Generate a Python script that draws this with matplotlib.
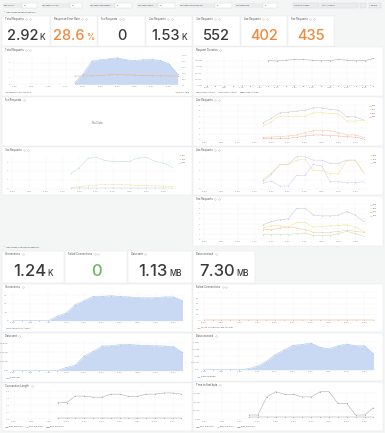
import numpy as np
import matplotlib
matplotlib.use('Agg')
import matplotlib.pyplot as plt
from matplotlib.patches import Rectangle

plt.rcParams['font.family'] = ['Inter', 'DejaVu Sans']
W, H = 385, 433
nan = np.nan

# ---------------- data ----------------
time_labels = ['10:00', '11:00', '12:00', '13:00', '14:00', '15:00', '16:00', '17:00', '18:00', '19:00']
t = np.arange(20)

stat_titles_1 = ['Total Requests', 'Response Error Rate', '1xx Requests', '2xx Requests',
                 '3xx Requests', '4xx Requests', '5xx Requests']
stat_values_1 = ['2.92', '28.6', '0', '1.53', '552', '402', '435']
stat_units_1 = ['K', '%', '', 'K', '', '', '']

stat_titles_2 = ['Connections', 'Failed Connections', 'Data sent', 'Data received']
stat_values_2 = ['1.24', '0', '1.13', '7.30']
stat_units_2 = ['K', '', 'MB', 'MB']

total_requests = [nan]*7 + [0.24, 1.43, 3.24, 3.43, 3.57, 3.71, 3.43, 3.33, 3.43, 3.48, 3.33, 2.86, 1.43]
error_rate = [nan]*7 + [30, 30, 31, 32, 34, 35, 34, 33, 32, 31, 31, 30, 30]

duration_p99 = [nan]*7 + [100, 99, 102, 105, 105, 102, 100, 100, 105, 102, 100, 100, 109]
duration_p50 = [0, 0, 0, 0, 0, 0, 0, 0, 0, 0, 0, 0, 0, 0, 0, 0, 0, 0, 0, 0]

req_2xx = {
    '200': [nan]*7 + [2.97, 3.71, 4.69, 4.80, 4.97, 5.14, 5.54, 5.54, 5.26, 5.14, 4.00, 4.00, 3.43],
    '201': [nan]*7 + [2.40, 3.14, 4.11, 4.11, 4.11, 4.11, 4.69, 4.69, 4.57, 4.46, 3.26, 3.26, 3.43],
    '204': [nan]*7 + [0.46, 0.51, 0.57, 0.69, 0.86, 1.26, 1.60, 1.60, 1.60, 1.26, 0.86, 0.86, 0.46],
    '206': [nan]*7 + [0.29, 0.29, 0.29, 0.29, 0.46, 0.69, 0.86, 0.86, 0.74, 0.69, 0.57, 0.46, 0.23],
}
req_3xx = {
    '301': [nan]*7 + [1.73, 2.38, 3.43, 3.54, 3.18, 3.07, 3.07, 3.10, 3.47, 3.54, 3.10, 2.89, 2.45],
    '302': [nan]*7 + [0.07, 0.22, 0.32, 0.40, 0.47, 0.47, 0.47, 0.43, 0.36, 0.36, 0.32, 0.29, 0.25],
    '304': [nan]*7 + [0.04, 0.04, 0.04, 0.04, 0.04, 0.04, 0.04, 0.04, 0.04, 0.04, 0.04, 0.04, 0.04],
}
req_4xx = {
    '400': [nan]*7 + [0.86, 1.61, 2.73, 2.73, 3.60, 3.60, 3.22, 3.22, 2.85, 2.85, 3.22, 3.22, 1.80],
    '404': [nan]*7 + [1.05, 1.80, 2.73, 2.73, 3.22, 3.30, 2.06, 2.06, 1.69, 1.69, 3.22, 3.22, 1.80],
    '499': [nan]*7 + [0.60, 0.86, 0.30, 0.30, 1.50, 1.50, 2.73, 2.55, 0.79, 0.79, 0.67, 0.67, 0.79],
}
req_5xx = {
    '500': [nan]*7 + [2.87, 3.50, 3.82, 4.01, 6.05, 6.05, 4.78, 4.59, 4.59, 4.78, 5.41, 4.78, 3.50],
    '502': [nan]*7 + [2.23, 2.68, 2.68, 2.42, 3.31, 3.31, 2.42, 2.55, 2.68, 2.74, 2.87, 2.42, 1.59],
    '503': [nan]*7 + [1.91, 1.91, 2.23, 2.42, 2.23, 1.91, 1.40, 1.40, 1.40, 1.59, 1.78, 1.59, 1.40],
    '504': [nan]*7 + [0.96, 0.96, 0.96, 0.96, 1.15, 1.27, 0.76, 0.76, 0.76, 1.15, 1.59, 1.15, 0.64],
}

connections = [0, 0, 0, 0, 0, 27, 46, 95, 119, 144, 144, 148, 144, 141, 137, 135, 137, 141, 141, 119]
failed_connections = [0, 0, 0, 0, 0, 0, 0, 0, 0, 0, 0, 0, 0, 0, 0, 0, 0, 0, 0, 0]
data_sent_kb = [0, 0, 0, 0, 0, 0, 70, 120, 320, 420, 540, 545, 572, 578, 560, 556, 544, 540, 528, 400]
data_recv_kb = [0, 0, 0, 0, 0, 75, 250, 600, 1100, 1450, 1780, 1850, 1950, 1650, 1535, 1750, 1880, 1750, 1750, 1170]
conn_len_p99 = [nan]*5 + [2.39, 2.39, 3.33, 3.33, 3.17, 3.17, 3.61, 3.61, 3.28, 3.28, 3.61, 3.61, 3.78, 3.78, 3.61]
conn_len_p50 = [nan]*5 + [0.22]*15
ttfb_p99 = [nan]*5 + [25, 25, 130, 160, 145, 145, 130, 130, 160, 160, 92, 92, 25, 25, 67]
ttfb_p50 = [nan]*5 + [13]*15

# ---------------- figure ----------------
fig = plt.figure(figsize=(W/100, H/100), dpi=100)
fig.patch.set_facecolor('#f4f5f5')
bg = fig.add_axes([0, 0, 1, 1])
bg.set_xlim(0, W); bg.set_ylim(H, 0); bg.axis('off')
renderer = fig.canvas.get_renderer()

TXT = '#3a3a3e'
LW = 0.35
MS = 0.75
LINE_GREY = '#a4a4a8'


def px_axes(x0, y0, x1, y1):
    return fig.add_axes([x0/W, 1-y1/H, (x1-x0)/W, (y1-y0)/H])


def twidth(txt):
    return txt.get_window_extent(renderer).width


def panel(x0, y0, x1, y1, title=None, icons=1):
    bg.add_patch(Rectangle((x0, y0), x1-x0, y1-y0, facecolor='white', edgecolor='#e4e5e8', lw=0.3))
    if title:
        tt = bg.text(x0+3, y0+3.4, title, fontsize=1.9, color='#4a4a4e', va='center', ha='left')
        xe = x0 + 3 + twidth(tt)
        for k in range(icons):
            bg.plot(xe+2.6+k*3.6, y0+3.4, marker='o', ms=1.1, mfc='none', mec='#a8a8ac', mew=0.25)


def stat(x0, y0, x1, y1, title, val, unit, color, fs, ufs, base, icons=1):
    panel(x0, y0, x1, y1, title, icons)
    gap = 1.6
    t1 = bg.text(0, base, val, fontsize=fs, color=color, va='baseline', ha='left', fontweight='medium')
    w1 = twidth(t1)
    w2 = 0
    t2 = None
    if unit:
        t2 = bg.text(0, base, unit, fontsize=ufs, color=color, va='baseline', ha='left', fontweight='medium')
        w2 = twidth(t2) + gap
    start = (x0+x1)/2 - (w1+w2)/2
    t1.set_x(start)
    if t2 is not None:
        t2.set_x(start + w1 + gap)


def style_ax(ax, ylim, yticks, ylabels):
    ax.set_facecolor('none')
    for s in ax.spines.values():
        s.set_visible(False)
    ax.tick_params(length=0, labelsize=1.6, colors='#8a8a8e', pad=0.8)
    ax.set_xlim(-0.4, 19.4)
    ax.set_xticks(range(0, 20, 2))
    ax.set_xticklabels(time_labels)
    ax.set_ylim(*ylim)
    ax.set_yticks(yticks)
    ax.set_yticklabels(ylabels)
    ax.grid(True, color='#f1f1f1', lw=0.3)
    ax.set_axisbelow(True)


def bottom_legend(x0, y, entries, align='left', x1=None):
    if align == 'left':
        x = x0
        for lab, col in entries:
            bg.plot([x, x+2.6], [y, y], color=col, lw=0.6, solid_capstyle='butt')
            tx = bg.text(x+3.6, y, lab, fontsize=1.6, color='#666', va='center', ha='left')
            x = x + 3.6 + twidth(tx) + 3.5
    else:
        x = x1
        for lab, col in entries[::-1]:
            tx = bg.text(x, y, lab, fontsize=1.6, color='#666', va='center', ha='right')
            w = twidth(tx)
            bg.plot([x-w-3.6, x-w-1.0], [y, y], color=col, lw=0.6, solid_capstyle='butt')
            x = x - w - 7


def right_legend(x, y0, entries):
    for i, (lab, col) in enumerate(entries):
        yy = y0 + i*3.7
        bg.plot([x, x+2.4], [yy, yy], color=col, lw=0.6, solid_capstyle='butt')
        bg.text(x+3.3, yy, lab, fontsize=1.6, color='#666', va='center', ha='left')


def plot_line(ax, vals, color, **kw):
    ax.plot(t, np.array(vals, dtype=float), color=color, lw=LW, marker='o', ms=MS, mew=0, **kw)


def lines(ax, data, colors):
    for (lab, vals), c in zip(data.items(), colors):
        plot_line(ax, vals, c)


# ---------------- top filter bar ----------------
filters = [(3, 'Datasource', 22, 37), (42, 'Upstream Service', 70, 82), (90, 'Upstream Namespace', 115, 132),
           (137, 'Upstream Name', 158, 175), (180, 'Upstream Workload Kind', 215, 232), (235, 'Upstream Pod', 263, 277)]
for lx, lab, bx0, bx1 in filters:
    bg.add_patch(Rectangle((lx-0.5, 2.8), bx0-lx, 5.2, facecolor='#ebecee', edgecolor='none'))
    bg.text(lx+0.5, 5.4, lab, fontsize=1.4, color='#555', va='center', ha='left')
    bg.add_patch(Rectangle((bx0, 2.8), bx1-bx0, 5.2, facecolor='white', edgecolor='#d5d6d9', lw=0.3))
    bg.text(bx0+1.5, 5.4, 'All', fontsize=1.4, color='#555', va='center', ha='left')
for bx0, bx1, lab in [(293, 319, 'Show time range'), (321, 358, 'Last 3 months'), (360, 366, ''), (369, 381, 'Refresh')]:
    bg.add_patch(Rectangle((bx0, 2.8), bx1-bx0, 5.2, facecolor='#ebecee', edgecolor='#d5d6d9', lw=0.3))
    if lab:
        bg.text(bx0+1.5, 5.4, lab, fontsize=1.4, color='#555', va='center', ha='left')

# ---------------- section 1 ----------------
bg.text(4, 12.2, '˅  Upstream Request Metrics', fontsize=1.7, color='#444', va='center', ha='left')

stat_x = [(2, 50), (51, 97), (98, 145), (146, 192), (193, 240), (241, 287), (288, 334)]
stat_colors_1 = [TXT, '#f2883a', TXT, TXT, TXT, '#f2883a', '#f2883a']
for (x0, x1), ti, v, u, c in zip(stat_x, stat_titles_1, stat_values_1, stat_units_1, stat_colors_1):
    stat(x0, 16, x1, 46, ti, v, u, c, 10.5, 6.0, 39.5, icons=2)

# Total Requests
panel(2, 47, 192, 96, 'Total Requests', icons=2)
ax = px_axes(11, 55, 181, 85)
style_ax(ax, (-0.1, 4.1), [0, 1, 2, 3], ['0', '1', '2', '3'])
tr = np.array(total_requests, dtype=float)
ax.fill_between(t, tr, 0, where=~np.isnan(tr), color='#c9d9f3', lw=0)
plot_line(ax, total_requests, '#a6c1ee')
ax2 = ax.twinx()
for s in ax2.spines.values():
    s.set_visible(False)
plot_line(ax2, error_rate, '#f4b07a')
ax2.set_ylim(0, 100)
ax2.set_yticks([0, 20, 40, 60, 80, 100])
ax2.set_yticklabels(['0%', '20%', '40%', '60%', '80%', '100%'])
ax2.tick_params(length=0, labelsize=1.6, colors='#8a8a8e', pad=0.8)
bottom_legend(5, 92.2, [('Requests per second', '#a6c1ee')])
bottom_legend(0, 92.2, [('Error rate', '#f4b07a')], align='right', x1=189)

# Request Duration
panel(193, 47, 383, 96, 'Request Duration', icons=1)
ax = px_axes(203, 57, 377, 86)
style_ax(ax, (-2, 115), [0, 25, 50, 75, 100], ['0 ms', '25 ms', '50 ms', '75 ms', '100 ms'])
plot_line(ax, duration_p99, LINE_GREY)
plot_line(ax, duration_p50, LINE_GREY, ls=(0, (2, 2)))
bottom_legend(196, 91.8, [('Duration (p50)', LINE_GREY), ('Duration (p90)', '#bdbdc1'), ('Duration (p99)', '#8e8e92')])

# 1xx Requests - no data
panel(2, 97, 192, 146, '1xx Requests', icons=1)
bg.text(97, 123.5, 'No Data', fontsize=2.0, color='#777', ha='center', va='center')

# 2xx Requests
panel(193, 97, 383, 146, '2xx Requests', icons=2)
ax = px_axes(201, 104, 367, 140.5)
style_ax(ax, (-0.1, 6.2), [0, 1, 2, 3, 4, 5, 6], ['0', '1', '2', '3', '4', '5', '6'])
c2 = ['#c2c8d6', '#f3e28c', '#f6c49a', '#f3aaa8']
lines(ax, req_2xx, c2)
right_legend(369, 105.7, list(zip(req_2xx.keys(), c2)))

# 3xx Requests
panel(2, 147, 192, 195, '3xx Requests', icons=2)
ax = px_axes(9, 155, 175, 189.5)
style_ax(ax, (-0.1, 3.8), [0, 1, 2, 3], ['0', '1', '2', '3'])
c3 = ['#bde0d2', '#f3e28c', '#c6d4ee']
lines(ax, req_3xx, c3)
right_legend(179, 155.3, list(zip(req_3xx.keys(), c3)))

# 4xx Requests
panel(193, 147, 383, 195, '4xx Requests', icons=2)
ax = px_axes(201, 155, 367, 189.5)
style_ax(ax, (-0.1, 3.8), [0, 1, 2, 3], ['0', '1', '2', '3'])
c4 = ['#c5cde0', '#f3e28c', '#d5c8ec']
lines(ax, req_4xx, c4)
right_legend(370, 155.3, list(zip(req_4xx.keys(), c4)))

# 5xx Requests
panel(193, 196, 383, 246, '5xx Requests', icons=2)
ax = px_axes(201, 203, 367, 240)
style_ax(ax, (-0.1, 7.1), [0, 1, 2, 3, 4, 5, 6, 7], ['0', '1', '2', '3', '4', '5', '6', '7'])
c5 = ['#c2c8d6', '#f3e28c', '#f6c49a', '#bfe0b9']
lines(ax, req_5xx, c5)
right_legend(370, 204.5, list(zip(req_5xx.keys(), c5)))

# ---------------- section 2 ----------------
bg.text(4, 247.5, '˅  Upstream Connection Metrics', fontsize=1.7, color='#444', va='center', ha='left')
stat_x2 = [(2, 64), (65, 127), (128, 192), (193, 255)]
stat_colors_2 = [TXT, '#6cb85e', TXT, TXT]
for (x0, x1), ti, v, u, c in zip(stat_x2, stat_titles_2, stat_values_2, stat_units_2, stat_colors_2):
    stat(x0, 251, x1, 283, ti, v, u, c, 12.0, 5.8, 276.3, icons=1 if ti != 'Failed Connections' else 2)


def area_panel(x0, y0, x1, y1, title, vals, ylim, yticks, ylabels, legend):
    panel(x0, y0, x1, y1, title, icons=1)
    ax = px_axes(x0+7, y0+8, x1-6, y1-11)
    style_ax(ax, ylim, yticks, ylabels)
    v = np.array(vals, dtype=float)
    ax.fill_between(t, v, 0, color='#c9d9f3', lw=0)
    plot_line(ax, vals, '#a6c1ee')
    bottom_legend(x0+4, y1-4.2, [(legend, '#a6c1ee')])


area_panel(2, 284, 192, 332, 'Connections', connections, (-2, 170), [0, 50, 100, 150],
           ['0', '50', '100', '150'], 'Connections (open)')
area_panel(2, 333, 192, 382, 'Data sent', data_sent_kb, (-8, 650), [0, 200, 400, 600],
           ['0 B', '200 kB', '400 kB', '600 kB'], 'Data sent')
area_panel(193, 333, 383, 381, 'Data received', data_recv_kb, (-20, 2100), [0, 500, 1000, 1500, 2000],
           ['0 B', '500 kB', '1 MB', '1.5 MB', '2 MB'], 'Data received')

# Failed Connections
panel(193, 284, 383, 332, 'Failed Connections', icons=2)
ax = px_axes(200, 291, 377, 321)
style_ax(ax, (-0.02, 1.05), [0, 0.2, 0.4, 0.6, 0.8, 1.0], ['0', '0.2', '0.4', '0.6', '0.8', '1'])
plot_line(ax, failed_connections, '#f4b07a')
bottom_legend(197, 327.8, [('Failed connections per second', '#f4b07a')])

# Connection Length
panel(2, 383, 192, 431, 'Connection Length', icons=1)
ax = px_axes(10, 390, 185, 420)
style_ax(ax, (-0.1, 4.2), [0, 1, 2, 3, 4], ['0 s', '1 s', '2 s', '3 s', '4 s'])
plot_line(ax, conn_len_p99, LINE_GREY)
plot_line(ax, conn_len_p50, LINE_GREY)
bottom_legend(5, 426.8, [('p50 Duration', LINE_GREY), ('p90 Duration', '#bdbdc1'), ('p99 Duration', '#8e8e92')])

# Time to first byte
panel(193, 382, 383, 431, 'Time to first byte', icons=1)
ax = px_axes(201, 390, 377, 420)
style_ax(ax, (-4, 170), [0, 50, 100, 150], ['0 ms', '50 ms', '100 ms', '150 ms'])
plot_line(ax, ttfb_p99, LINE_GREY)
plot_line(ax, ttfb_p50, LINE_GREY)
bottom_legend(196, 426.8, [('p50 Duration', LINE_GREY), ('p90 Duration', '#bdbdc1'), ('p99 Duration', '#8e8e92')])

fig.savefig('out.png', dpi=100, facecolor=fig.get_facecolor())
